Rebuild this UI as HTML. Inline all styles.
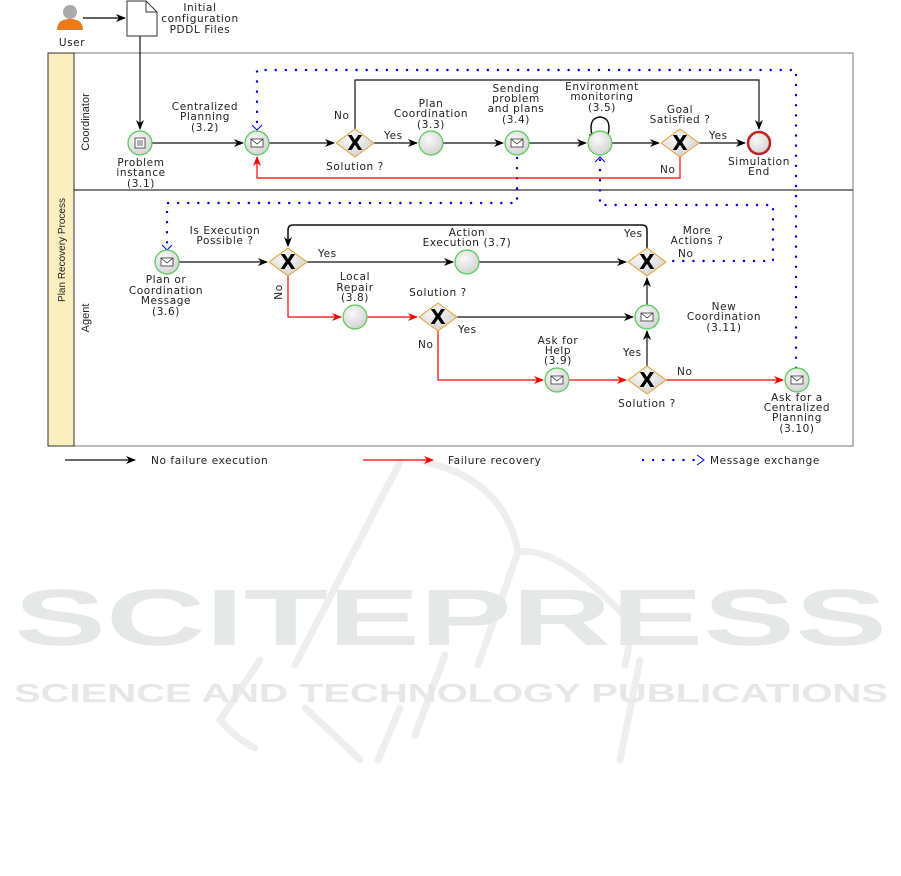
<!DOCTYPE html>
<html><head><meta charset="utf-8"><style>
html,body{margin:0;padding:0;background:#fff;}
svg{display:block;font-family:"DejaVu Sans","Liberation Sans",sans-serif;}
text{font-size:10.5px;letter-spacing:0.6px;fill:#222;}
</style></head><body>
<svg width="901" height="876" viewBox="0 0 901 876" xmlns="http://www.w3.org/2000/svg">
<defs>
<marker id="ab" markerWidth="10" markerHeight="8" refX="9" refY="4" orient="auto" markerUnits="userSpaceOnUse"><path d="M0,0 L10,4 L0,8 L3,4z" fill="#000"/></marker>
<marker id="ar" markerWidth="10" markerHeight="8" refX="9" refY="4" orient="auto" markerUnits="userSpaceOnUse"><path d="M0,0 L10,4 L0,8 L3,4z" fill="#f00"/></marker>
<radialGradient id="g" cx="40%" cy="35%" r="70%"><stop offset="0" stop-color="#fafafa"/><stop offset="1" stop-color="#d0d0d0"/></radialGradient>
<g id="env"><rect x="-6" y="-4" width="12" height="8" fill="#fff" stroke="#333" stroke-width="0.8"/><path d="M-6,-4 L0,1 L6,-4" fill="none" stroke="#333" stroke-width="0.8"/></g>
<g id="gw"><path d="M0,-14 L19,0 L0,14 L-19,0z" fill="url(#g)" stroke="#e8a030" stroke-width="1"/><text x="0" y="7" text-anchor="middle" style="font-size:20px;font-weight:bold;fill:#000;letter-spacing:0">X</text></g>
<g id="nd"><circle r="12" fill="url(#g)" stroke="#5c5" stroke-width="1.2"/></g>
</defs>

<!-- watermark -->
<g fill="none" stroke="#eeeeee" stroke-width="7" stroke-linecap="round">
<path d="M400,462 L295,665"/>
<path d="M425,462 Q505,480 518,552 L478,665"/>
<path d="M518,552 Q560,545 633,625 L625,665"/>
<path d="M260,660 L220,720 Q235,738 255,748"/>
<path d="M445,655 L415,735"/>
<path d="M640,660 L620,760"/>
<path d="M305,708 Q340,740 360,760"/>
<path d="M400,708 L378,760"/>
</g>
<g style="font-family:'Liberation Sans',sans-serif;letter-spacing:0">
<text x="14" y="645" textLength="873" lengthAdjust="spacingAndGlyphs" style="font-size:80px;font-weight:bold;fill:#e6e7e7;letter-spacing:0">SCITEPRESS</text>
<text x="14" y="702" textLength="874" lengthAdjust="spacingAndGlyphs" style="font-size:26px;font-weight:bold;fill:#e6e7e7;letter-spacing:0">SCIENCE AND TECHNOLOGY PUBLICATIONS</text>
</g>

<!-- user -->
<circle cx="70" cy="12" r="7" fill="#aaa"/>
<path d="M57,30 Q57,19 70,19 Q83,19 83,30z" fill="#e87a20"/>
<text x="72" y="46" text-anchor="middle">User</text>
<line x1="83" y1="18" x2="125" y2="18" stroke="#000" stroke-width="1.2" marker-end="url(#ab)"/>
<path d="M127,1 L146,1 L157,12 L157,36 L127,36z" fill="#fff" stroke="#333"/>
<path d="M146,1 L146,12 L157,12" fill="none" stroke="#333"/>
<text x="200" y="11" text-anchor="middle">Initial</text>
<text x="200" y="22" text-anchor="middle">configuration</text>
<text x="200" y="33" text-anchor="middle">PDDL Files</text>

<!-- pool -->
<rect x="48" y="53" width="805" height="393" fill="#fff" stroke="#777"/>
<rect x="48" y="53" width="26" height="393" fill="#fbefbf" stroke="#333"/>
<line x1="74" y1="190" x2="853" y2="190" stroke="#000"/>
<text transform="translate(65,250) rotate(-90)" text-anchor="middle" style="font-size:10px;letter-spacing:0;font-family:'Liberation Sans',sans-serif">Plan Recovery Process</text>
<text transform="translate(89,122) rotate(-90)" text-anchor="middle" style="font-size:11px;letter-spacing:0;font-family:'Liberation Sans',sans-serif">Coordinator</text>
<text transform="translate(89,318) rotate(-90)" text-anchor="middle" style="font-size:11px;letter-spacing:0;font-family:'Liberation Sans',sans-serif">Agent</text>

<!-- blue dotted -->
<g fill="none" stroke="#0000ee" stroke-width="2.4" stroke-dasharray="0.1 10" stroke-linecap="round">
<path d="M257,122 L257,70 L796,70 L796,368"/>
<path d="M517,158 L517,203 L167,203 L167,244"/>
<path d="M600,160 L600,205 L773,205 L773,261 L668,261"/>
<path d="M643,460 L695,460"/>
</g>
<g fill="none" stroke="#0000ee" stroke-width="1">
<path d="M252,125 L257,130 L262,125 M257,130 L257,132"/>
<path d="M162,245 L167,250 L172,245 M167,250 L167,252"/>
<path d="M595,162 L600,157 L605,162"/>
<path d="M697,455 L704,460 L697,465"/>
</g>

<!-- black flows -->
<g fill="none" stroke="#111" stroke-width="1.2">
<path d="M140,36 L140,129" marker-end="url(#ab)"/>
<path d="M152,143 L243,143" marker-end="url(#ab)"/>
<path d="M269,143 L334,143" marker-end="url(#ab)"/>
<path d="M374,143 L417,143" marker-end="url(#ab)"/>
<path d="M443,143 L503,143" marker-end="url(#ab)"/>
<path d="M529,143 L586,143" marker-end="url(#ab)"/>
<path d="M612,143 L659,143" marker-end="url(#ab)"/>
<path d="M699,143 L745,143" marker-end="url(#ab)"/>
<path d="M355,129 L355,80 L759,80 L759,129" marker-end="url(#ab)"/>
<path d="M592,135 Q588,118 600,117 Q612,118 608,135" stroke-width="1.5"/>
<path d="M179,262 L267,262" marker-end="url(#ab)"/>
<path d="M307,262 L453,262" marker-end="url(#ab)"/>
<path d="M479,262 L626,262" marker-end="url(#ab)"/>
<path d="M647,248 L647,230 Q647,225 642,225 L293,225 Q288,225 288,230 L288,246" marker-end="url(#ab)" stroke-width="1.5"/>
<path d="M457,317 L633,317" marker-end="url(#ab)"/>
<path d="M647,366 L647,331" marker-end="url(#ab)"/>
<path d="M647,305 L647,278" marker-end="url(#ab)"/>
<path d="M65,460 L135,460" marker-end="url(#ab)"/>
</g>
<path d="M589,134 L597,136 L591,142z" fill="#000"/>
<!-- red flows -->
<g fill="none" stroke="#f00" stroke-width="1.2">
<path d="M680,157 L680,178 L257,178 L257,157" marker-end="url(#ar)"/>
<path d="M288,276 L288,317 L341,317" marker-end="url(#ar)"/>
<path d="M367,317 L417,317" marker-end="url(#ar)"/>
<path d="M438,331 L438,380 L543,380" marker-end="url(#ar)"/>
<path d="M569,380 L626,380" marker-end="url(#ar)"/>
<path d="M666,380 L783,380" marker-end="url(#ar)"/>
<path d="M363,460 L433,460" marker-end="url(#ar)"/>
</g>

<!-- nodes -->
<use href="#nd" x="140" y="143"/>
<g fill="none" stroke="#333" stroke-width="0.8"><rect x="135" y="138" width="10" height="10" fill="#fff"/><path d="M137,141h6M137,143h6M137,145h6"/></g>
<use href="#nd" x="257" y="143"/><use href="#env" x="257" y="143"/>
<use href="#gw" x="355" y="143"/>
<use href="#nd" x="431" y="143"/>
<use href="#nd" x="517" y="143"/><use href="#env" x="517" y="143"/>
<use href="#nd" x="600" y="143"/>
<use href="#gw" x="680" y="143"/>
<circle cx="759" cy="143" r="11" fill="url(#g)" stroke="#b22" stroke-width="2.5"/>
<use href="#nd" x="167" y="262"/><use href="#env" x="167" y="262"/>
<use href="#gw" x="288" y="262"/>
<use href="#nd" x="467" y="262"/>
<use href="#gw" x="647" y="262"/>
<use href="#nd" x="355" y="317"/>
<use href="#gw" x="438" y="317"/>
<use href="#nd" x="647" y="317"/><use href="#env" x="647" y="317"/>
<use href="#nd" x="557" y="380"/><use href="#env" x="557" y="380"/>
<use href="#gw" x="647" y="380"/>
<use href="#nd" x="797" y="380"/><use href="#env" x="797" y="380"/>

<!-- labels -->
<g text-anchor="middle">
<text x="141" y="166">Problem</text><text x="141" y="176">instance</text><text x="141" y="187">(3.1)</text>
<text x="205" y="110">Centralized</text><text x="205" y="120">Planning</text><text x="205" y="131">(3.2)</text>
<text x="355" y="170">Solution ?</text>
<text x="431" y="107">Plan</text><text x="431" y="117">Coordination</text><text x="431" y="128">(3.3)</text>
<text x="516" y="92">Sending</text><text x="516" y="102">problem</text><text x="516" y="112">and plans</text><text x="516" y="123">(3.4)</text>
<text x="602" y="90">Environment</text><text x="602" y="100">monitoring</text><text x="602" y="111">(3.5)</text>
<text x="680" y="113">Goal</text><text x="680" y="123">Satisfied ?</text>
<text x="759" y="165">Simulation</text><text x="759" y="175">End</text>
<text x="166" y="283">Plan or</text><text x="166" y="294">Coordination</text><text x="166" y="304">Message</text><text x="166" y="315">(3.6)</text>
<text x="225" y="234">Is Execution</text><text x="225" y="244">Possible ?</text>
<text x="467" y="236">Action</text><text x="467" y="246">Execution (3.7)</text>
<text x="697" y="234">More</text><text x="697" y="244">Actions ?</text>
<text x="355" y="280">Local</text><text x="355" y="291">Repair</text><text x="355" y="301">(3.8)</text>
<text x="438" y="296">Solution ?</text>
<text x="724" y="310">New</text><text x="724" y="320">Coordination</text><text x="724" y="331">(3.11)</text>
<text x="558" y="344">Ask for</text><text x="558" y="354">Help</text><text x="558" y="364">(3.9)</text>
<text x="647" y="407">Solution ?</text>
<text x="797" y="401">Ask for a</text><text x="797" y="411">Centralized</text><text x="797" y="421">Planning</text><text x="797" y="432">(3.10)</text>
</g>
<text x="334" y="119">No</text>
<text x="384" y="139">Yes</text>
<text x="709" y="139">Yes</text>
<text x="660" y="173">No</text>
<text x="318" y="257">Yes</text>
<text x="624" y="237">Yes</text>
<text x="678" y="257">No</text>
<text transform="translate(282,292) rotate(-90)" text-anchor="middle">No</text>
<text x="458" y="333">Yes</text>
<text x="418" y="348">No</text>
<text x="623" y="356">Yes</text>
<text x="677" y="375">No</text>
<text x="151" y="464">No failure execution</text>
<text x="448" y="464">Failure recovery</text>
<text x="710" y="464">Message exchange</text>
</svg>
</body></html>
